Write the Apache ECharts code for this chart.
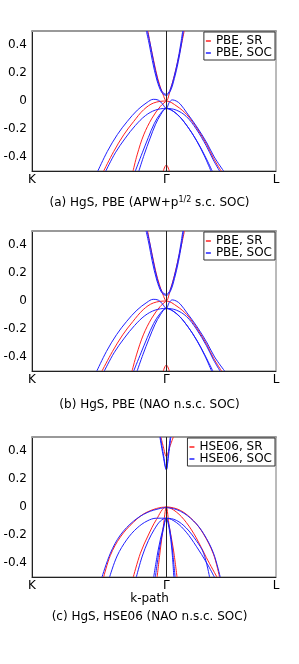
<!DOCTYPE html>
<html><head><meta charset="utf-8">
<script src="https://cdn.jsdelivr.net/npm/echarts@6/dist/echarts.min.js"></script>
<style>html,body{margin:0;padding:0;background:#fff}#c{width:299px;height:664px}</style>
</head><body><div id="c"></div>
<script>
// k-path positions (2pi/a units) and labels
const kTicks = [0, 1.0607, 1.9267];
const kLabels = ['K', 'Γ', 'L'];
const eTicks = [-0.4, -0.2, 0, 0.2, 0.4];
const captions = [
  '(a) HgS, PBE (APW+p{sup|1/2} s.c. SOC)',
  '(b) HgS, PBE (NAO n.s.c. SOC)',
  '(c) HgS, HSE06 (NAO n.s.c. SOC)'
];
const legendNames = [['PBE, SR', 'PBE, SOC'], ['PBE, SR', 'PBE, SOC'], ['HSE06, SR', 'HSE06, SOC']];

// Panel (a) bands [k, E(eV)]
const aSR = [
  [[0.915,0.5],[0.935,0.40],[0.958,0.30],[0.982,0.20],[1.006,0.12],[1.029,0.06],[1.0607,0.0],[1.092,0.08],[1.124,0.18],[1.155,0.30],[1.179,0.40],[1.202,0.5]],
  [[0.566,-0.5],[0.645,-0.361],[0.724,-0.242],[0.803,-0.146],[0.882,-0.062],[0.961,-0.014],[1.0607,0],[1.145,-0.038],[1.223,-0.098],[1.302,-0.194],[1.381,-0.313],[1.433,-0.409],[1.494,-0.5]],
  [[0.798,-0.5],[0.830,-0.385],[0.882,-0.242],[0.948,-0.122],[1.014,-0.038],[1.0607,0]],
  [[1.037,-0.5],[1.049,-0.47],[1.0607,-0.457],[1.072,-0.47],[1.084,-0.5]]
];
const aSOC = [
  [[0.903,0.5],[0.927,0.40],[0.950,0.29],[0.986,0.15],[1.025,0.06],[1.0607,0.04],[1.092,0.07],[1.124,0.16],[1.155,0.28],[1.179,0.40],[1.195,0.5]],
  [[0.911,0.5],[0.935,0.40],[0.958,0.29],[0.992,0.15],[1.029,0.065],[1.0607,0.048],[1.088,0.075],[1.118,0.16],[1.149,0.28],[1.173,0.40],[1.19,0.5]],
  [[0.520,-0.5],[0.595,-0.36],[0.674,-0.24],[0.753,-0.145],[0.832,-0.065],[0.909,-0.01],[0.958,0.012],[0.998,0.006],[1.029,-0.02],[1.0607,-0.053],[1.084,-0.01],[1.108,0.008],[1.139,0.0],[1.171,-0.022],[1.223,-0.085],[1.302,-0.185],[1.381,-0.30],[1.439,-0.40],[1.513,-0.5]],
  [[0.583,-0.5],[0.658,-0.37],[0.737,-0.265],[0.816,-0.175],[0.895,-0.105],[0.974,-0.065],[1.0607,-0.053],[1.139,-0.065],[1.218,-0.11],[1.297,-0.2],[1.376,-0.32],[1.431,-0.42],[1.481,-0.5]],
  [[0.816,-0.5],[0.871,-0.37],[0.919,-0.26],[0.966,-0.16],[1.014,-0.09],[1.0607,-0.053],[1.139,-0.09],[1.218,-0.17],[1.297,-0.28],[1.360,-0.39],[1.413,-0.5]],
  [[0.844,-0.5],[0.887,-0.38],[0.931,-0.27],[0.974,-0.17],[1.018,-0.095],[1.0607,-0.053],[1.147,-0.095],[1.226,-0.18],[1.305,-0.29],[1.37,-0.40],[1.423,-0.5]]
];

// Panel (b) bands
const bSR = [
  [[0.913,0.5],[0.933,0.40],[0.956,0.30],[0.980,0.20],[1.005,0.12],[1.028,0.06],[1.0607,0.0],[1.092,0.08],[1.124,0.18],[1.155,0.30],[1.180,0.40],[1.204,0.5]],
  [[0.553,-0.5],[0.635,-0.361],[0.716,-0.242],[0.797,-0.146],[0.878,-0.062],[0.958,-0.014],[1.0607,0],[1.145,-0.038],[1.223,-0.098],[1.302,-0.194],[1.381,-0.313],[1.434,-0.409],[1.497,-0.5]],
  [[0.790,-0.5],[0.825,-0.385],[0.879,-0.242],[0.946,-0.122],[1.013,-0.038],[1.0607,0]],
  [[1.037,-0.5],[1.049,-0.47],[1.0607,-0.457],[1.072,-0.47],[1.084,-0.5]]
];
const bSOC = [
  [[0.901,0.5],[0.925,0.40],[0.948,0.29],[0.985,0.15],[1.024,0.06],[1.0607,0.04],[1.093,0.07],[1.125,0.16],[1.156,0.28],[1.180,0.40],[1.196,0.5]],
  [[0.909,0.5],[0.933,0.40],[0.956,0.29],[0.991,0.15],[1.028,0.065],[1.0607,0.048],[1.089,0.075],[1.119,0.16],[1.150,0.28],[1.174,0.40],[1.191,0.5]],
  [[0.512,-0.5],[0.588,-0.36],[0.668,-0.24],[0.748,-0.145],[0.829,-0.065],[0.907,-0.01],[0.957,0.012],[0.998,0.006],[1.029,-0.02],[1.0607,-0.053],[1.084,-0.01],[1.108,0.008],[1.139,0.0],[1.171,-0.022],[1.224,-0.085],[1.304,-0.185],[1.383,-0.30],[1.442,-0.40],[1.521,-0.5]],
  [[0.571,-0.5],[0.648,-0.37],[0.729,-0.265],[0.810,-0.175],[0.891,-0.105],[0.972,-0.065],[1.0607,-0.053],[1.139,-0.065],[1.219,-0.11],[1.298,-0.2],[1.378,-0.32],[1.433,-0.42],[1.485,-0.5]],
  [[0.803,-0.5],[0.861,-0.37],[0.911,-0.26],[0.961,-0.16],[1.011,-0.09],[1.0607,-0.053],[1.140,-0.09],[1.220,-0.17],[1.300,-0.28],[1.364,-0.39],[1.418,-0.5]],
  [[0.830,-0.5],[0.877,-0.38],[0.924,-0.27],[0.970,-0.17],[1.016,-0.095],[1.0607,-0.053],[1.148,-0.095],[1.228,-0.18],[1.308,-0.29],[1.373,-0.40],[1.428,-0.5]]
];

// Panel (c) bands
const cSR = [
  [[1.018,0.5],[1.037,0.43],[1.0607,0.36],[1.088,0.43],[1.116,0.5]],
  [[0.566,-0.5],[0.619,-0.345],[0.698,-0.214],[0.803,-0.107],[0.909,-0.036],[1.0607,0],[1.171,-0.024],[1.276,-0.099],[1.355,-0.194],[1.433,-0.337],[1.481,-0.5]],
  [[0.800,-0.5],[0.856,-0.33],[0.919,-0.2],[0.982,-0.09],[1.0607,0],[1.139,-0.035],[1.218,-0.11],[1.297,-0.22],[1.376,-0.36],[1.46,-0.5]],
  [[0.988,-0.5],[1.014,-0.3],[1.037,-0.14],[1.0607,0],[1.084,-0.14],[1.116,-0.3],[1.145,-0.5]]
];
const cSOC = [
  [[1.010,0.5],[1.033,0.38],[1.0607,0.265],[1.076,0.38],[1.092,0.5]],
  [[1.014,0.5],[1.037,0.38],[1.0607,0.27],[1.080,0.38],[1.096,0.5]],
  [[0.553,-0.5],[0.619,-0.33],[0.698,-0.2],[0.803,-0.1],[0.909,-0.04],[1.014,-0.01],[1.0607,-0.005],[1.171,-0.03],[1.276,-0.1],[1.355,-0.19],[1.433,-0.33],[1.486,-0.5]],
  [[0.613,-0.5],[0.672,-0.35],[0.751,-0.23],[0.830,-0.15],[0.909,-0.1],[0.982,-0.08],[1.0607,-0.08],[1.139,-0.095],[1.218,-0.15],[1.297,-0.24],[1.355,-0.33],[1.402,-0.5]],
  [[0.824,-0.5],[0.871,-0.35],[0.919,-0.24],[0.966,-0.16],[1.014,-0.1],[1.0607,-0.08],[1.139,-0.11],[1.218,-0.18],[1.297,-0.28],[1.38,-0.4],[1.44,-0.5]],
  [[0.961,-0.5],[0.998,-0.3],[1.033,-0.16],[1.0607,-0.08],[1.088,-0.16],[1.108,-0.3],[1.13,-0.5]],
  [[0.974,-0.5],[1.006,-0.3],[1.037,-0.16],[1.0607,-0.08],[1.084,-0.16],[1.104,-0.3],[1.12,-0.5]]
];

const panels = [[aSR, aSOC], [bSR, bSOC], [cSR, cSOC]];
const FONT = 'DejaVu Sans';
const RED = '#ff2020', BLUE = '#2020ff';
const gridTops = [31, 231, 437];
const captionTops = [196, 398, 610];
const legendTops = [32, 232, 438];
const legendRights = [24, 24, 24];

const grids = [], xAxes = [], yAxes = [], series = [], legends = [], titles = [];
panels.forEach((p, i) => {
  grids.push({left: 32, top: gridTops[i], width: 244, height: 140, show: true, borderColor: '#777', borderWidth: 1,
    containLabel: false, outerBoundsMode: 'none'});
  xAxes.push({
    type: 'value', gridIndex: i, min: kTicks[0], max: kTicks[2],
    axisLine: {show: true, onZero: false, lineStyle: {color: '#222', width: 1}},
    axisTick: {show: false}, splitLine: {show: false},
    axisLabel: {customValues: kTicks, margin: 3, fontFamily: FONT, fontSize: 12, color: '#000',
      formatter: v => kLabels[kTicks.findIndex(t => Math.abs(t - v) < 1e-6)] || ''}
  });
  xAxes.push({
    type: 'value', gridIndex: i, position: 'top', min: kTicks[0], max: kTicks[2],
    axisLine: {show: true, onZero: false, lineStyle: {color: '#999', width: 2}},
    axisTick: {show: false}, splitLine: {show: false}, axisLabel: {show: false}
  });
  yAxes.push({
    type: 'value', gridIndex: i, min: -0.5, max: 0.5,
    axisLine: {show: true, onZero: false, lineStyle: {color: '#222', width: 1}},
    axisTick: {show: false}, splitLine: {show: false},
    name: 'E − E_F (eV)', nameLocation: 'middle', nameGap: 27,
    nameTextStyle: {fontFamily: FONT, fontSize: 12, color: '#888'},
    axisLabel: {customValues: eTicks, margin: 5, fontFamily: FONT, fontSize: 12, color: '#000',
      formatter: v => String(Math.round(v * 10) / 10)}
  });
  const [sr, soc] = p;
  soc.forEach((band, j) => series.push({
    type: 'line', name: legendNames[i][1], xAxisIndex: i * 2, yAxisIndex: i, data: band,
    showSymbol: false, symbol: 'none', smooth: 0.35, color: BLUE, silent: true, animation: false,
    lineStyle: {color: BLUE, width: 1}, z: 3
  }));
  sr.forEach((band, j) => {
    const s = {
      type: 'line', name: legendNames[i][0], xAxisIndex: i * 2, yAxisIndex: i, data: band,
      showSymbol: false, symbol: 'none', smooth: 0.35, color: RED, silent: true, animation: false,
      lineStyle: {color: RED, width: 1}, z: 2
    };
    if (j === 0) s.markLine = {silent: true, symbol: 'none', animation: false, label: {show: false},
      lineStyle: {color: '#222', width: 1, type: 'solid'}, data: [{xAxis: kTicks[1]}]};
    series.push(s);
  });
  legends.push({
    data: legendNames[i], orient: 'vertical', right: legendRights[i], top: legendTops[i],
    icon: 'rect', itemWidth: 5, itemHeight: 1.5, itemGap: 0, selectedMode: false,
    padding: [3, 3, 1, 2], borderColor: '#333', borderWidth: 1, borderRadius: 0, backgroundColor: '#fff',
    textStyle: {fontFamily: FONT, fontSize: 12, color: '#000', lineHeight: 11}
  });
  titles.push({
    text: captions[i], left: 'center', top: captionTops[i], padding: 0,
    textStyle: {fontFamily: FONT, fontSize: 12, fontWeight: 'normal', color: '#000', lineHeight: 14,
      rich: {sup: {fontFamily: FONT, fontSize: 8, verticalAlign: 'top', lineHeight: 14, color: '#000'}}}
  });
});
titles.push({text: 'k-path', left: 'center', top: 592, padding: 0,
  textStyle: {fontFamily: FONT, fontSize: 12, fontWeight: 'normal', color: '#000', lineHeight: 14}});

const chart = echarts.init(document.getElementById('c'), null, {renderer: 'canvas'});
chart.setOption({
  backgroundColor: '#fff', animation: false,
  grid: grids, xAxis: xAxes, yAxis: yAxes, series: series, legend: legends, title: titles
});
</script></body></html>
